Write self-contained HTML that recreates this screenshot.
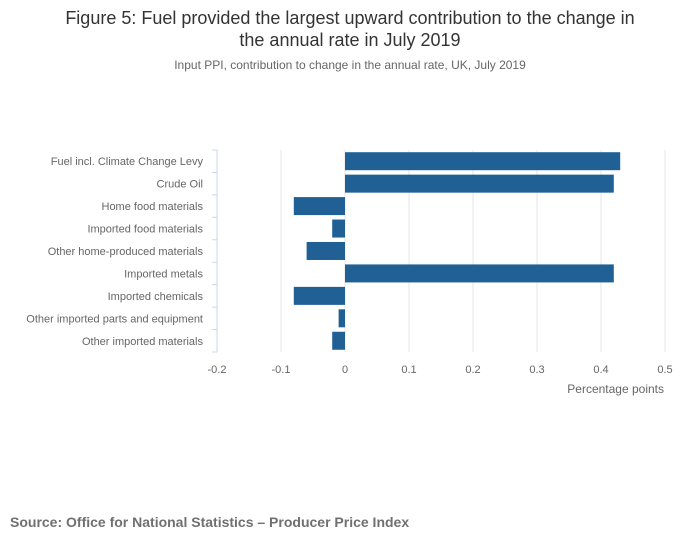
<!DOCTYPE html>
<html><head><meta charset="utf-8">
<style>
body{margin:0;background:#fff;width:700px;height:549px;overflow:hidden;font-family:"Liberation Sans",sans-serif}
</style></head>
<body>
<svg width="700" height="549">
<text x="350" y="24" text-anchor="middle" font-size="18" fill="#333">Figure 5: Fuel provided the largest upward contribution to the change in</text>
<text x="350" y="46" text-anchor="middle" font-size="18" fill="#333">the annual rate in July 2019</text>
<text x="350" y="69" text-anchor="middle" font-size="12" fill="#666">Input PPI, contribution to change in the annual rate, UK, July 2019</text>
<g id="grid"></g><g id="bars"></g><g id="axis"></g>
<text x="664" y="393" text-anchor="end" font-size="12" fill="#666">Percentage points</text>
<text x="10" y="527" font-size="14" font-weight="bold" fill="#707070">Source: Office for National Statistics – Producer Price Index</text>
</svg>
<script>
const categories=["Fuel incl. Climate Change Levy","Crude Oil","Home food materials","Imported food materials","Other home-produced materials","Imported metals","Imported chemicals","Other imported parts and equipment","Other imported materials"];
const values=[0.43,0.42,-0.08,-0.02,-0.06,0.42,-0.08,-0.01,-0.02];
const ticks=[-0.2,-0.1,0,0.1,0.2,0.3,0.4,0.5];
const tickLabels=["-0.2","-0.1","0","0.1","0.2","0.3","0.4","0.5"];
const NS="http://www.w3.org/2000/svg";
const x0=217,x1=665,yTop=150,yBot=352,dmin=-0.2,dmax=0.5;
const X=v=>x0+(v-dmin)/(dmax-dmin)*(x1-x0);
const band=(yBot-yTop)/categories.length;
const Y=i=>yTop+i*band;
function mk(t,a,p){const e=document.createElementNS(NS,t);for(const k in a)e.setAttribute(k,a[k]);p.appendChild(e);return e;}
const g=document.getElementById('grid'),b=document.getElementById('bars'),ax=document.getElementById('axis');
ticks.forEach((t,i)=>{
 if(i>0){const l=mk('line',{x1:X(t),x2:X(t),y1:yTop,y2:yBot,stroke:'#e6e6e6'},g);
 
 }
 const tx=mk('text',{x:X(t),y:373,'text-anchor':'middle','font-size':11,fill:'#666'},ax);
 tx.textContent=tickLabels[i];
 
 
});
const al=mk('line',{x1:x0,x2:x0,y1:yTop,y2:yBot,stroke:'#ccd6eb'},ax);


for(let i=0;i<=categories.length;i++){
 const tk=mk('line',{x1:x0-5,x2:x0,y1:Y(i),y2:Y(i),stroke:'#ccd6eb'},ax);
 
 
}
categories.forEach((c,i)=>{
 const v=values[i];
 const r=mk('rect',{x:Math.min(X(0),X(v)),y:Y(i)+2.2,width:Math.abs(X(v)-X(0)),height:18,fill:'#206095'},b);
 
 
 const t=mk('text',{x:203,y:Y(i)+band/2+4,'text-anchor':'end','font-size':11,fill:'#666'},ax);
 t.textContent=c;
 
 
});
</script>
</body></html>
